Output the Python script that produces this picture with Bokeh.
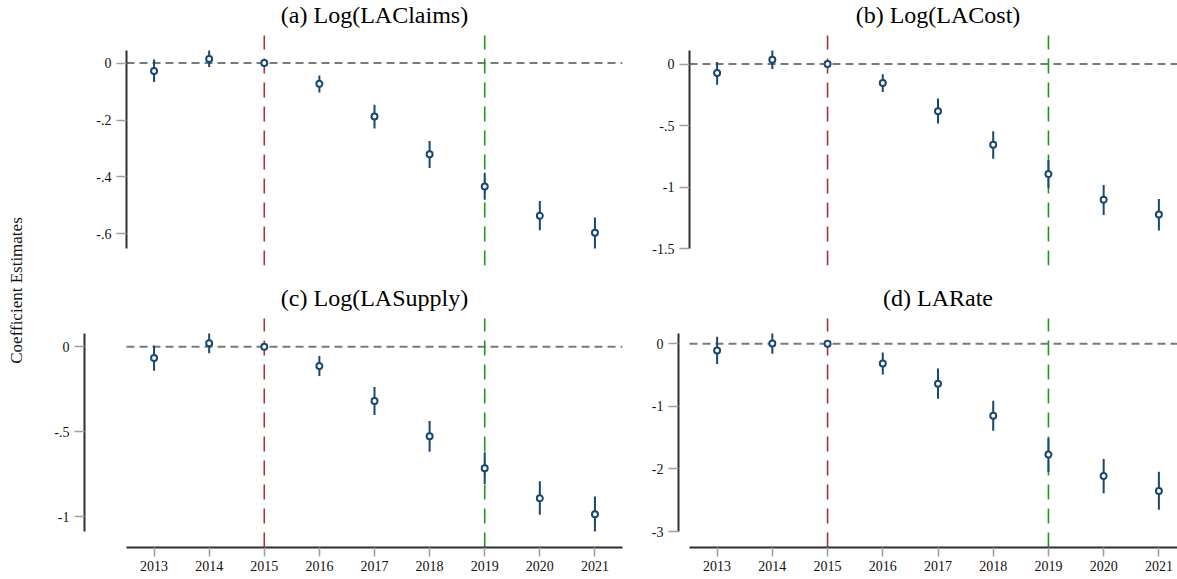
import math
from bokeh.plotting import figure
from bokeh.models import Range1d, FixedTicker
from bokeh.layouts import row, column
from bokeh.core.properties import value
from bokeh.embed import file_html
from bokeh.resources import INLINE

# ---------------- data ----------------
years = [2013, 2014, 2015, 2016, 2017, 2018, 2019, 2020, 2021]
event_years = [2015, 2019]

a_title = "(a) Log(LAClaims)"
a_coef = [-0.028, 0.014, 0.0, -0.073, -0.188, -0.320, -0.433, -0.536, -0.596]
a_lo = [-0.067, -0.014, 0.0, -0.103, -0.230, -0.368, -0.480, -0.587, -0.651]
a_hi = [0.012, 0.044, 0.0, -0.044, -0.146, -0.274, -0.385, -0.484, -0.542]
a_ticks = [0, -0.2, -0.4, -0.6]
a_tick_labels = ["0", "-.2", "-.4", "-.6"]

b_title = "(b) Log(LACost)"
b_coef = [-0.073, 0.035, 0.0, -0.154, -0.384, -0.657, -0.895, -1.103, -1.224]
b_lo = [-0.168, -0.040, 0.0, -0.227, -0.484, -0.770, -1.010, -1.227, -1.354]
b_hi = [0.016, 0.110, 0.0, -0.084, -0.281, -0.546, -0.780, -0.984, -1.097]
b_ticks = [0, -0.5, -1, -1.5]
b_tick_labels = ["0", "-.5", "-1", "-1.5"]

c_title = "(c) Log(LASupply)"
c_coef = [-0.067, 0.020, 0.0, -0.114, -0.320, -0.527, -0.716, -0.892, -0.986]
c_lo = [-0.141, -0.039, 0.0, -0.173, -0.402, -0.618, -0.808, -0.990, -1.088]
c_hi = [0.008, 0.078, 0.0, -0.055, -0.237, -0.437, -0.622, -0.792, -0.882]
c_ticks = [0, -0.5, -1]
c_tick_labels = ["0", "-.5", "-1"]

d_title = "(d) LARate"
d_coef = [-0.106, 0.005, 0.0, -0.314, -0.638, -1.149, -1.771, -2.112, -2.351]
d_lo = [-0.324, -0.160, 0.0, -0.489, -0.878, -1.388, -2.048, -2.388, -2.654]
d_hi = [0.112, 0.165, 0.0, -0.138, -0.394, -0.910, -1.511, -1.840, -2.043]
d_ticks = [0, -1, -2, -3]
d_tick_labels = ["0", "-1", "-2", "-3"]

y_label = "Coefficient Estimates"

# ---------------- styling ----------------
SERIF = "Liberation Serif"
NAVY = "#1a476f"
ZERO_COLOR = "#7a7a7a"
EVENT_COLORS = ["#a8323e", "#1f961f"]
AXIS_COLOR = "#2e2e2e"
TICK_COLOR = "#a0a0a0"

LABEL_W = 36
LEFT_W, RIGHT_W = 604, 537
TOP_H, BOT_H = 280, 299
AXIS_LEN = 198


def make_panel(title, coef, lo, hi, ticks, tick_labels, top_row, right_col,
               border_left, axis_offset):
    fig_w = RIGHT_W if right_col else LEFT_W
    fig_h = TOP_H if top_row else BOT_H
    border_right = 0 if right_col else 18
    border_bottom = 15 if top_row else 32
    gap_top = 50 if top_row else 53
    gap_bot = 17 if top_row else 16
    title_mid = 14 if top_row else 17   # px below the frame top
    region_w = 497 if right_col else 496

    frame_w = fig_w - border_left - border_right
    pxy = region_w / 9.0
    x_first = years[0] - 0.5
    x_last = years[-1] + 0.5
    x_start = x_first - axis_offset / pxy
    x_end = x_start + frame_w / pxy

    ax_lo = min(min(lo), min(ticks))
    ax_hi = max(max(hi), max(ticks))
    scale = AXIS_LEN / (ax_hi - ax_lo)
    y_start = ax_lo - gap_bot / scale
    y_end = ax_hi + gap_top / scale
    region_top = ax_hi + 15 / scale

    p = figure(width=fig_w, height=fig_h, output_backend="svg",
               toolbar_location=None,
               x_range=Range1d(x_start, x_end), y_range=Range1d(y_start, y_end),
               min_border_left=border_left, min_border_right=border_right,
               min_border_top=0, min_border_bottom=border_bottom)
    p.outline_line_color = None
    p.background_fill_color = "white"
    p.border_fill_color = "white"
    p.xgrid.visible = False
    p.ygrid.visible = False

    ya = p.yaxis[0]
    ya.ticker = FixedTicker(ticks=ticks)
    ya.major_label_overrides = {t: l for t, l in zip(ticks, tick_labels)}
    ya.bounds = (ax_lo, ax_hi)
    ya.axis_line_color = AXIS_COLOR
    ya.axis_line_width = 2
    ya.major_tick_line_color = TICK_COLOR
    ya.major_tick_line_width = 1.6
    ya.major_tick_in = 0
    ya.major_tick_out = 10
    ya.minor_tick_line_color = None
    ya.major_label_standoff = 5
    ya.major_label_text_font = SERIF
    ya.major_label_text_font_size = "14px"
    ya.major_label_text_color = "#111111"

    xa = p.xaxis[0]
    if top_row:
        xa.visible = False
    else:
        xa.ticker = FixedTicker(ticks=years)
        xa.bounds = (x_first, min(x_last, x_end))
        xa.axis_line_color = AXIS_COLOR
        xa.axis_line_width = 2
        xa.major_tick_line_color = TICK_COLOR
        xa.major_tick_line_width = 1.6
        xa.major_tick_in = 0
        xa.major_tick_out = 9
        xa.minor_tick_line_color = None
        xa.major_label_standoff = 4
        xa.major_label_text_font = SERIF
        xa.major_label_text_font_size = "14px"
        xa.major_label_text_color = "#111111"

    # zero reference line
    p.segment(x0=[x_first], y0=[0], x1=[x_end], y1=[0],
              line_color=ZERO_COLOR, line_width=2, line_dash="8 5")
    # event-year lines
    for ev, col in zip(event_years, EVENT_COLORS):
        p.segment(x0=[ev], y0=[y_start], x1=[ev], y1=[region_top],
                  line_color=col, line_width=1.6, line_dash="15 9")
    # confidence intervals
    p.segment(x0=years, y0=lo, x1=years, y1=hi, line_color=NAVY, line_width=2)
    # point estimates
    p.scatter(years, coef, marker="circle", size=6, line_width=2,
              line_color=NAVY, fill_color="white")
    # panel title
    p.text(x=[(x_first + x_last) / 2], y=[y_end - title_mid / scale], text=[title],
           text_font=value(SERIF), text_font_size=value("24px"),
           text_align="center", text_baseline="middle", text_color="#000000")
    return p


pa = make_panel(a_title, a_coef, a_lo, a_hi, a_ticks, a_tick_labels, True, False, 90, 0)
pb = make_panel(b_title, b_coef, b_lo, b_hi, b_ticks, b_tick_labels, True, True, 49, 0)
pc = make_panel(c_title, c_coef, c_lo, c_hi, c_ticks, c_tick_labels, False, False, 48, 42)
pd = make_panel(d_title, d_coef, d_lo, d_hi, d_ticks, d_tick_labels, False, True, 38, 11)

# shared y-axis label
tot_h = TOP_H + BOT_H
pl = figure(width=LABEL_W, height=tot_h, output_backend="svg", toolbar_location=None,
            x_range=Range1d(0, LABEL_W), y_range=Range1d(0, tot_h),
            min_border_left=0, min_border_right=0, min_border_top=0, min_border_bottom=0)
pl.axis.visible = False
pl.xgrid.visible = False
pl.ygrid.visible = False
pl.outline_line_color = None
pl.text(x=[15.5], y=[tot_h - 290], text=[y_label], angle=math.pi / 2,
        text_font=value(SERIF), text_font_size=value("17px"),
        text_align="center", text_baseline="middle", text_color="#111111")

layout = row(pl, column(row(pa, pb), row(pc, pd)))

open("out.html", "w").write(file_html(layout, INLINE))
